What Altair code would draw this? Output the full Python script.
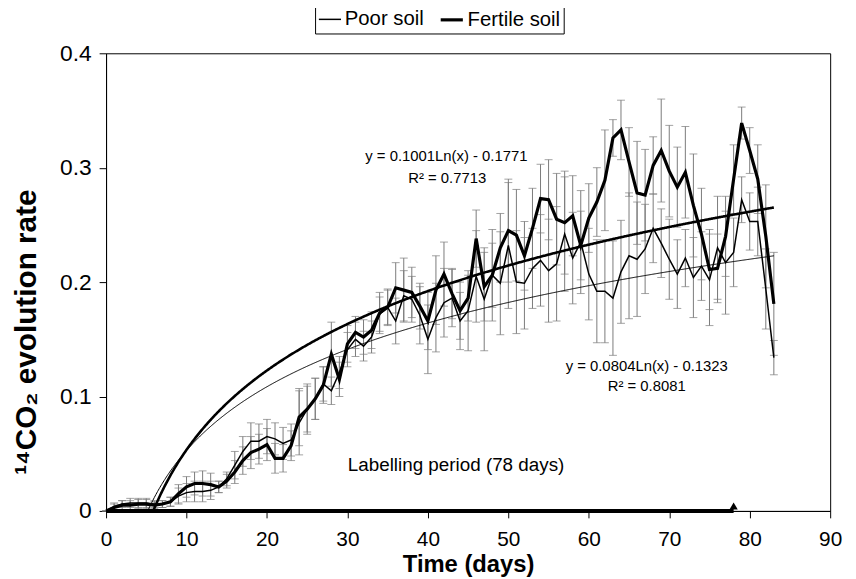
import altair as alt
import pandas as pd

# ---------------- data ----------------
days = list(range(84))

poor = [
    0.000, 0.004, 0.006, 0.007, 0.007, 0.007, 0.006, 0.006, 0.008, 0.013,
    0.016, 0.017, 0.017, 0.018, 0.021, 0.028, 0.040, 0.052, 0.061, 0.061,
    0.065, 0.063, 0.059, 0.062, 0.077, 0.089, 0.098, 0.111, 0.105, 0.121,
    0.141, 0.150, 0.144, 0.152, 0.172, 0.178, 0.166, 0.188, 0.185, 0.171,
    0.150, 0.169, 0.182, 0.186, 0.166, 0.175, 0.205, 0.185, 0.206, 0.199,
    0.232, 0.200, 0.199, 0.212, 0.219, 0.210, 0.216, 0.242, 0.221, 0.235,
    0.207, 0.192, 0.192, 0.186, 0.209, 0.223, 0.220, 0.229, 0.247, 0.234,
    0.220, 0.207, 0.221, 0.204, 0.214, 0.202, 0.230, 0.217, 0.226, 0.272,
    0.253, 0.253, 0.194, 0.134,
]

fertile = [
    0.000, 0.003, 0.005, 0.005, 0.006, 0.006, 0.005, 0.006, 0.008, 0.015,
    0.021, 0.024, 0.024, 0.023, 0.021, 0.026, 0.034, 0.044, 0.051, 0.054,
    0.058, 0.046, 0.046, 0.057, 0.082, 0.089, 0.098, 0.110, 0.137, 0.115,
    0.146, 0.156, 0.152, 0.158, 0.173, 0.178, 0.195, 0.193, 0.191, 0.179,
    0.166, 0.193, 0.207, 0.190, 0.175, 0.186, 0.238, 0.196, 0.206, 0.230,
    0.245, 0.241, 0.223, 0.247, 0.273, 0.272, 0.255, 0.252, 0.258, 0.232,
    0.256, 0.270, 0.289, 0.326, 0.333, 0.305, 0.278, 0.276, 0.302, 0.315,
    0.297, 0.283, 0.296, 0.267, 0.242, 0.211, 0.212, 0.240, 0.290, 0.339,
    0.315, 0.290, 0.240, 0.181,
]

poor_err = [
    0.000, 0.003, 0.003, 0.004, 0.004, 0.004, 0.003, 0.003, 0.004, 0.007,
    0.008, 0.009, 0.009, 0.008, 0.005, 0.006, 0.012, 0.013, 0.016, 0.015,
    0.015, 0.014, 0.014, 0.014, 0.028, 0.022, 0.018, 0.015, 0.012, 0.014,
    0.015, 0.015, 0.013, 0.014, 0.015, 0.016, 0.020, 0.022, 0.020, 0.025,
    0.030, 0.030, 0.030, 0.025, 0.025, 0.035, 0.040, 0.045, 0.040, 0.045,
    0.055, 0.045, 0.040, 0.035, 0.040, 0.045, 0.050, 0.050, 0.040, 0.045,
    0.040, 0.045, 0.045, 0.050, 0.045, 0.055, 0.050, 0.039, 0.030, 0.030,
    0.035, 0.030, 0.025, 0.035, 0.030, 0.040, 0.045, 0.045, 0.030, 0.020,
    0.025, 0.030, 0.035, 0.015,
]

fertile_err = [
    0.000, 0.003, 0.004, 0.004, 0.004, 0.004, 0.003, 0.003, 0.004, 0.008,
    0.009, 0.010, 0.011, 0.010, 0.005, 0.006, 0.010, 0.012, 0.014, 0.013,
    0.014, 0.013, 0.012, 0.013, 0.025, 0.020, 0.018, 0.016, 0.028, 0.015,
    0.016, 0.014, 0.015, 0.016, 0.018, 0.015, 0.022, 0.028, 0.022, 0.020,
    0.025, 0.030, 0.028, 0.022, 0.025, 0.020, 0.025, 0.030, 0.028, 0.030,
    0.045, 0.040, 0.030, 0.035, 0.030, 0.035, 0.040, 0.045, 0.035, 0.030,
    0.030, 0.030, 0.044, 0.016, 0.026, 0.030, 0.045, 0.040, 0.025, 0.045,
    0.040, 0.035, 0.040, 0.045, 0.040, 0.035, 0.030, 0.035, 0.030, 0.014,
    0.020, 0.030, 0.045, 0.045,
]

series_names = ["Poor soil", "Fertile soil"]
trend_slope = [0.0804, 0.1001]
trend_intercept = [-0.1323, -0.1771]

eq_text = ["y = 0.1001Ln(x) - 0.1771", "R² = 0.7713",
           "y = 0.0804Ln(x) - 0.1323", "R² = 0.8081"]
eq_day = [42.3, 42.4, 67.2, 67.2]
eq_val = [0.310, 0.291, 0.127, 0.1095]

period_text = ["Labelling period (78 days)"]
period_day = [43.5]
period_val = [0.040]

labelling_days = [0, 78]

# ---------------- tables ----------------
rows = []
for name, vals, errs in [(series_names[0], poor, poor_err),
                         (series_names[1], fertile, fertile_err)]:
    for d, v, e in zip(days, vals, errs):
        rows.append({"day": d, "value": v, "err": e, "series": name})
df = pd.DataFrame(rows)

eqs = pd.DataFrame({"text": eq_text, "day": eq_day, "value": eq_val})
period = pd.DataFrame({"text": period_text, "day": period_day, "value": period_val})
lab = pd.DataFrame({"day": [labelling_days[0]], "day2": [labelling_days[1]], "value": [0.0]})
lab_end = pd.DataFrame({"day": [labelling_days[1]], "value": [0.0]})

FONT = "Liberation Sans"

x_scale = alt.Scale(domain=[0, 90], nice=False, zero=False)
y_scale = alt.Scale(domain=[0, 0.4], nice=False)

x_axis = alt.Axis(values=list(range(0, 91, 10)), title="Time (days)", format="d",
                  titleY=54, titleBaseline="middle", labelPadding=11,
                  labelFlush=False, titleFontSize=24, labelFontSize=21)
y_axis = alt.Axis(values=[0, 0.1, 0.2, 0.3, 0.4], format=".1~f",
                  title="¹⁴CO₂ evolution rate", titleX=-80, titleY=281,
                  titleBaseline="middle", titleAngle=-90, labelPadding=8,
                  labelFlush=False, titleFontSize=30, labelFontSize=23)

base = alt.Chart(df)

ERR = "#7a7a7a"

err_rules = base.mark_rule(color=ERR, strokeWidth=1).encode(
    x=alt.X("day:Q", scale=x_scale, axis=x_axis),
    y=alt.Y("lo:Q", scale=y_scale, axis=y_axis),
    y2="hi:Q",
).transform_calculate(lo="datum.value - datum.err", hi="datum.value + datum.err")

cap_lo = base.mark_tick(color=ERR, orient="horizontal", size=8, thickness=1).encode(
    x=alt.X("day:Q", scale=x_scale),
    y=alt.Y("lo:Q", scale=y_scale),
).transform_calculate(lo="datum.value - datum.err")

cap_hi = base.mark_tick(color=ERR, orient="horizontal", size=8, thickness=1).encode(
    x=alt.X("day:Q", scale=x_scale),
    y=alt.Y("hi:Q", scale=y_scale),
).transform_calculate(hi="datum.value + datum.err")

lab_bar = alt.Chart(lab).mark_rule(color="black", strokeWidth=4).encode(
    x=alt.X("day:Q", scale=x_scale), x2="day2:Q", y=alt.Y("value:Q", scale=y_scale)
)
lab_tri = alt.Chart(lab_end).mark_point(shape="triangle-up", filled=True, size=70,
                                        color="black", opacity=1, yOffset=-5).encode(
    x=alt.X("day:Q", scale=x_scale), y=alt.Y("value:Q", scale=y_scale)
)

def trend(i, width):
    return alt.Chart(alt.sequence(start=1, stop=83.05, step=0.1, as_="day")).mark_line(
        color="black", strokeWidth=width
    ).transform_calculate(
        value=f"{trend_slope[i]} * log(datum.day) + ({trend_intercept[i]})"
    ).transform_filter("datum.value >= 0").encode(
        x=alt.X("day:Q", scale=x_scale), y=alt.Y("value:Q", scale=y_scale)
    )

trend_poor = trend(0, 1)
trend_fert = trend(1, 2.6)

lines = base.mark_line(color="black").encode(
    x=alt.X("day:Q", scale=x_scale),
    y=alt.Y("value:Q", scale=y_scale),
    detail="series:N",
    strokeWidth=alt.StrokeWidth(
        "series:N",
        scale=alt.Scale(domain=series_names, range=[1.5, 3.2]),
        legend=alt.Legend(
            title=None, orient="none", legendX=211, legendY=-50, direction="horizontal",
            symbolType="stroke", symbolStrokeColor="black", symbolSize=500,
            labelFont=FONT, labelFontSize=20.5, labelColor="black",
            strokeColor="black", padding=3, columnPadding=10, symbolOffset=0,
            labelOffset=3, fillColor="white",
        ),
    ),
)

eq_marks = alt.Chart(eqs).mark_text(font=FONT, fontSize=15, color="black").encode(
    x=alt.X("day:Q", scale=x_scale), y=alt.Y("value:Q", scale=y_scale), text="text:N"
)
period_mark = alt.Chart(period).mark_text(font=FONT, fontSize=19, color="black").encode(
    x=alt.X("day:Q", scale=x_scale), y=alt.Y("value:Q", scale=y_scale), text="text:N"
)

chart = alt.layer(
    err_rules, cap_lo, cap_hi, lab_bar, trend_poor, trend_fert, lines, lab_tri,
    eq_marks, period_mark
).properties(
    width=731, height=462,
    autosize=alt.AutoSizeParams(type="none"),
    padding={"left": 99, "top": 43, "right": 18, "bottom": 66},
).configure_axis(
    labelFont=FONT, labelColor="black",
    titleFont=FONT, titleFontWeight="bold", titleColor="black",
    domainColor="black", tickColor="black", grid=False, tickSize=7,
).configure_view(stroke="black", strokeWidth=1)

chart.save("out.html", embed_options={"renderer": "svg", "actions": False})
